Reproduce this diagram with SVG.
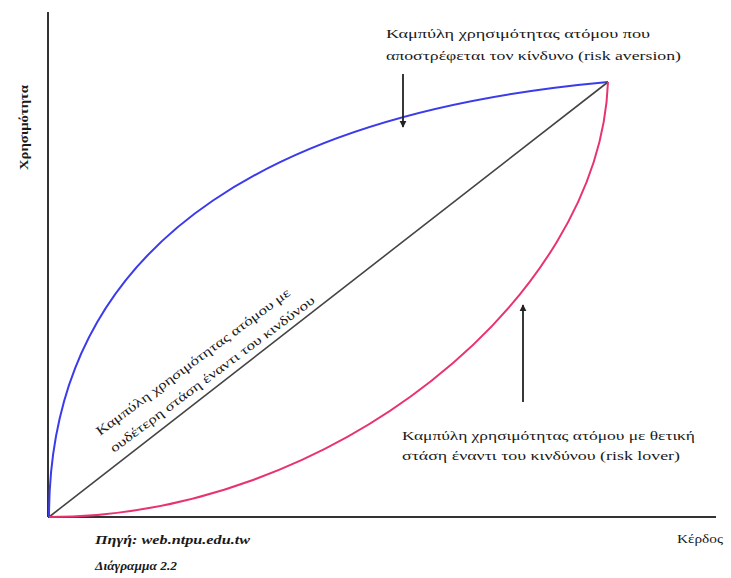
<svg xmlns="http://www.w3.org/2000/svg" width="731" height="578" viewBox="0 0 731 578">
<style>
.t{font-family:"Liberation Serif","Times New Roman","DejaVu Serif",serif;font-size:13px;fill:#1a1a1a}
.ax{stroke:#333;stroke-width:2;fill:none}
.cv{fill:none;stroke-width:2}
.ar{stroke:#222;stroke-width:1.8;fill:none}
</style>
<defs>
<marker id="ah" viewBox="0 0 10 10" refX="9" refY="5" markerWidth="4" markerHeight="5" markerUnits="strokeWidth" orient="auto">
<path d="M0,0 L10,5 L0,10 z" fill="#222"/>
</marker>
</defs>
<rect width="731" height="578" fill="#fff"/>
<g id="axes">
<line class="ax" x1="48" y1="12" x2="48" y2="517"/>
<line class="ax" x1="48" y1="517" x2="716" y2="517"/>
</g>
<g id="curves">
<path id="risk-averse" class="cv" stroke="#3b3bec" d="M49,517 C49,225 300,110 608,82"/>
<line id="risk-neutral" x1="49" y1="517" x2="608" y2="82" stroke="#444" stroke-width="1.6"/>
<path id="risk-lover" class="cv" stroke="#e8336e" d="M49,517 C330,517 600,300 608,82"/>
</g>
<g id="connectors">
<line class="ar" x1="403" y1="74" x2="403" y2="127" marker-end="url(#ah)"/>
<line class="ar" x1="523" y1="402" x2="523" y2="305" marker-end="url(#ah)"/>
</g>
<g id="label-averse">
<text class="t" x="386" y="38" textLength="264" lengthAdjust="spacingAndGlyphs">Καμπύλη χρησιμότητας ατόμου που</text>
<text class="t" x="386" y="60" textLength="295" lengthAdjust="spacingAndGlyphs">αποστρέφεται  τον κίνδυνο (risk aversion)</text>
</g>
<g id="label-lover">
<text class="t" x="402" y="440" textLength="293" lengthAdjust="spacingAndGlyphs">Καμπύλη χρησιμότητας ατόμου με θετική</text>
<text class="t" x="402" y="460" textLength="278" lengthAdjust="spacingAndGlyphs">στάση  έναντι του κινδύνου (risk lover)</text>
</g>
<g id="label-neutral">
<text class="t" font-size="12" transform="translate(100,436) rotate(-36.5)" textLength="238" lengthAdjust="spacingAndGlyphs">Καμπύλη χρησιμότητας ατόμου με</text>
<text class="t" font-size="12" transform="translate(114,453) rotate(-36.8)" textLength="252" lengthAdjust="spacingAndGlyphs">ουδέτερη στάση έναντι του κινδύνου</text>
</g>
<g id="y-label">
<text class="t" font-weight="bold" transform="translate(28,170) rotate(-90)" textLength="85" lengthAdjust="spacingAndGlyphs">Χρησιμότητα</text>
</g>
<g id="x-label">
<text class="t" x="677" y="543" textLength="46" lengthAdjust="spacingAndGlyphs">Κέρδος</text>
</g>
<g id="source">
<text class="t" font-size="11" font-style="italic" font-weight="bold" x="95" y="544" textLength="155" lengthAdjust="spacingAndGlyphs">Πηγή: web.ntpu.edu.tw</text>
<text class="t" font-size="11" font-style="italic" font-weight="bold" x="95" y="570" textLength="82" lengthAdjust="spacingAndGlyphs">Διάγραμμα 2.2</text>
</g>
</svg>
